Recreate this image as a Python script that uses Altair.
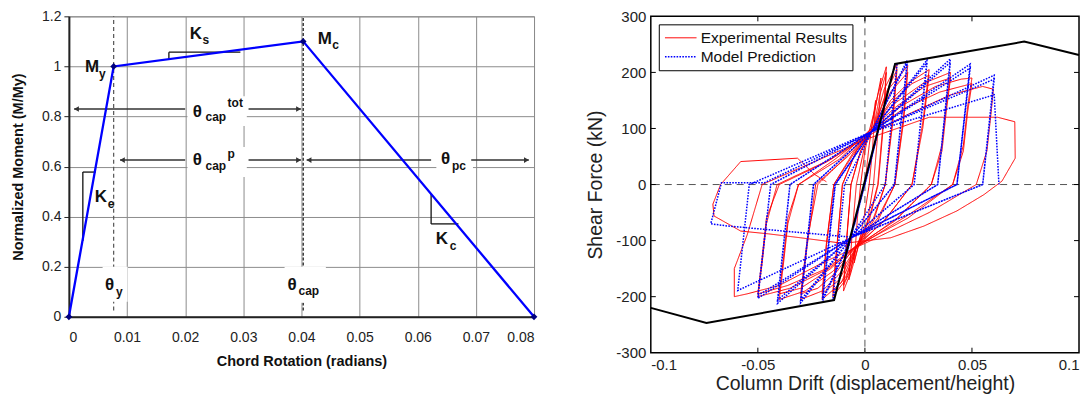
import altair as alt
import pandas as pd

FONT = "Liberation Sans"

# ---------------- LEFT PANEL DATA ----------------
bb_rot = [0.0, 0.0077, 0.0403, 0.08]
bb_mom = [0.0, 1.0, 1.1, 0.0]

x_ticks_left = [0, 0.01, 0.02, 0.03, 0.04, 0.05, 0.06, 0.07, 0.08]
y_ticks_left = [0, 0.2, 0.4, 0.6, 0.8, 1, 1.2]

dash_x = [0.0077, 0.0403]
dash_y1 = [0.025, 0.025]
dash_y2 = [1.2, 1.2]

# white label backgrounds (x1, x2, y1, y2)
box_x1 = [0.0204, 0.0204, 0.0632, 0.0058, 0.0371]
box_x2 = [0.0306, 0.0306, 0.0695, 0.0101, 0.0442]
box_y1 = [0.762, 0.558, 0.558, 0.06, 0.056]
box_y2 = [0.881, 0.678, 0.678, 0.20, 0.20]

# double arrows
arr_x1 = [0.0009, 0.0309, 0.0088, 0.0309, 0.0409, 0.0692]
arr_x2 = [0.0200, 0.0399, 0.0200, 0.0399, 0.0623, 0.0791]
arr_y = [0.83, 0.83, 0.626, 0.626, 0.626, 0.626]
head_l_x = [0.0013, 0.0092, 0.0413]
head_l_y = [0.83, 0.626, 0.626]
head_r_x = [0.0395, 0.0395, 0.0787]
head_r_y = [0.83, 0.626, 0.626]

# slope brackets
seg_x1 = [0.0172, 0.0172, 0.0024, 0.0024, 0.0623, 0.0623]
seg_x2 = [0.0295, 0.0172, 0.0046, 0.0024, 0.0623, 0.0670]
seg_y1 = [1.057, 1.030, 0.578, 0.303, 0.371, 0.371]
seg_y2 = [1.057, 1.057, 0.578, 0.578, 0.490, 0.371]

# labels
main_text = ["M", "K", "M", "θ", "θ", "θ", "K", "K", "θ", "θ"]
main_x = [0.00275, 0.0208, 0.0428, 0.0213, 0.0213, 0.0640, 0.00446, 0.0631, 0.0062, 0.0376]
main_y = [0.997, 1.128, 1.108, 0.817, 0.626, 0.630, 0.478, 0.311, 0.125, 0.125]
sub_text = ["y", "s", "c", "cap", "cap", "pc", "e", "c", "y", "cap"]
sub_x = [0.0052, 0.0230, 0.0453, 0.0235, 0.0235, 0.0659, 0.0067, 0.0655, 0.0081, 0.0395]
sub_y = [0.969, 1.104, 1.084, 0.797, 0.602, 0.602, 0.450, 0.283, 0.100, 0.104]
sup_text = ["tot", "p"]
sup_x = [0.0273, 0.0273]
sup_y = [0.853, 0.650]

# ---------------- RIGHT PANEL DATA ----------------
x_ticks_right = [-0.1, -0.05, 0, 0.05, 0.1]
y_ticks_right = [-300, -200, -100, 0, 100, 200, 300]

backbone_drift = [-0.1, -0.074, -0.0144, 0.0141, 0.0744, 0.1]
backbone_force = [-220, -247, -206, 215, 255, 231]

red_pts = [
    (0, 0), (0.002, 70), (0.005, 150), (0.0035, 60), (0.002, 0), (0.0, -50), (-0.002, -90), (-0.005, -140),
    (-0.0035, -60), (-0.002, 0), (0.0, 60), (0.002, 95), (0.005, 140), (0.0075, 190),
    (0.006, 90), (0.004, 0), (0.001, -70), (-0.003, -110), (-0.0075, -170),
    (-0.006, -90), (-0.004, 0), (0.0, 70), (0.003, 100), (0.006, 160), (0.01, 210),
    (0.0085, 110), (0.006, 0), (0.002, -60), (-0.004, -110), (-0.007, -160), (-0.01, -190),
    (-0.0085, -100), (-0.0065, 0), (-0.002, 60), (0.004, 100), (0.007, 160), (0.01, 200),
    (0.0085, 100), (0.0062, 0), (0.002, -65), (-0.004, -112), (-0.007, -155), (-0.01, -180),
    (-0.0085, -95), (-0.0065, 0), (-0.002, 60), (0.004, 100), (0.009, 170), (0.015, 215),
    (0.013, 120), (0.0095, 0), (0.004, -60), (-0.004, -110), (-0.009, -170), (-0.015, -200),
    (-0.013, -110), (-0.0105, 0), (-0.004, 60), (0.004, 100), (0.01, 165), (0.015, 205),
    (0.013, 110), (0.0095, 0), (0.004, -65), (-0.004, -112), (-0.009, -165), (-0.015, -192),
    (-0.013, -105), (-0.0105, 0), (-0.004, 60), (0.004, 100), (0.011, 170), (0.02, 212),
    (0.018, 120), (0.014, 0), (0.006, -60), (-0.004, -110), (-0.011, -175), (-0.02, -205),
    (-0.018, -110), (-0.0145, 0), (-0.004, 62), (0.004, 100), (0.012, 165), (0.02, 200),
    (0.018, 110), (0.014, 0), (0.006, -65), (-0.004, -112), (-0.012, -170), (-0.02, -195),
    (-0.018, -105), (-0.0145, 0), (-0.005, 60), (0.004, 100), (0.012, 150), (0.02, 180), (0.03, 205),
    (0.027, 110), (0.022, 0), (0.01, -60), (-0.004, -112), (-0.012, -160), (-0.02, -190), (-0.03, -205),
    (-0.027, -110), (-0.023, 0), (-0.008, 50), (0.004, 100), (0.012, 145), (0.022, 180), (0.03, 195),
    (0.027, 100), (0.022, 0), (0.009, -65), (-0.005, -112), (-0.013, -155), (-0.022, -185), (-0.03, -195),
    (-0.027, -100), (-0.022, 0), (-0.01, 45), (0.003, 100), (0.014, 145), (0.027, 180), (0.04, 200),
    (0.038, 140), (0.036, 70), (0.031, 0), (0.015, -60), (-0.004, -112), (-0.015, -155), (-0.028, -190),
    (-0.04, -205),
    (-0.038, -140), (-0.036, -70), (-0.031, 0), (-0.012, 45), (0.003, 100), (0.015, 140), (0.028, 175),
    (0.04, 190),
    (0.038, 130), (0.036, 60), (0.031, 0), (0.014, -65), (-0.005, -112), (-0.016, -150), (-0.03, -185),
    (-0.04, -195),
    (-0.038, -130), (-0.036, -60), (-0.031, 0), (-0.014, 45), (0.003, 95), (0.017, 140), (0.033, 175),
    (0.045, 188), (0.05, 190),
    (0.048, 140), (0.046, 70), (0.041, 0), (0.02, -55), (-0.004, -112), (-0.017, -150), (-0.035, -185),
    (-0.05, -200),
    (-0.048, -140), (-0.046, -70), (-0.041, 0), (-0.016, 45), (0.003, 95), (0.018, 135), (0.035, 165),
    (0.05, 180),
    (0.048, 130), (0.046, 60), (0.041, 0), (0.02, -60), (-0.004, -110), (-0.018, -150), (-0.036, -180),
    (-0.05, -195),
    (-0.048, -130), (-0.046, -60), (-0.04, 0), (-0.018, 40), (0.003, 90), (0.02, 125), (0.04, 160),
    (0.055, 175), (0.06, 170),
    (0.059, 130), (0.057, 60), (0.052, 0), (0.03, -50), (0.0, -105), (-0.02, -140), (-0.04, -180),
    (-0.055, -195), (-0.061, -200),
    (-0.061, -150), (-0.055, -90), (-0.048, 0), (-0.03, 30), (0.0, 80), (0.03, 120), (0.062, 120),
    (0.07, 112),
    (0.0702, 47), (0.064, 6), (0.0556, -18), (0.043, -47), (0.0276, -74), (0.012, -95), (-0.01, -105),
    (-0.03, -95), (-0.045, -88), (-0.058, -83), (-0.0705, -56), (-0.071, -35),
    (-0.0674, 0), (-0.058, 41), (-0.0315, 47), (-0.0235, 18), (-0.018, 5),
]

blue_pts = [
    (0, 0), (0.005, 76), (-0.005, -73), (0.0075, 114), (-0.0075, -108), (0.01, 152), (-0.01, -145),
    (0.0141, 215), (0.015, 216),
    (0.0095, 0), (-0.006, -90), (-0.015, -207),
    (-0.0095, 0), (0.003, 92), (0.0198, 222),
    (0.0138, 0), (-0.006, -92), (-0.0198, -208),
    (-0.0138, 0), (0.003, 94), (0.0198, 218),
    (0.0138, 0), (-0.006, -92), (-0.0198, -204),
    (-0.014, 0), (0.003, 94), (0.029, 222),
    (0.023, 0), (-0.006, -94), (-0.03, -211),
    (-0.024, 0), (0.003, 94), (0.029, 217),
    (0.023, 0), (-0.006, -94), (-0.03, -206),
    (-0.024, 0), (0.003, 94), (0.0399, 224),
    (0.034, 0), (-0.006, -94), (-0.0408, -212),
    (-0.035, 0), (0.003, 94), (0.0399, 218),
    (0.034, 0), (-0.006, -94), (-0.0408, -206),
    (-0.035, 0), (0.003, 94), (0.0492, 215),
    (0.043, 0), (-0.006, -94), (-0.05, -203),
    (-0.044, 0), (0.003, 94), (0.0492, 208),
    (0.043, 0), (-0.006, -94), (-0.05, -198),
    (-0.044, 0), (0.003, 94), (0.0604, 195),
    (0.055, 0), (-0.006, -94), (-0.0594, -189),
    (-0.054, 0), (0.003, 94), (0.0604, 188),
    (0.055, 0), (-0.006, -94), (-0.064, -74), (-0.072, -70),
    (-0.067, 3), (-0.047, 3), (0.003, 94), (0.0604, 160), (0.0626, 0),
]

series_names = ["Experimental Results", "Model Prediction"]

# ---------------- LEFT PANEL ----------------
LW, LH = 466, 301

xaxis_l = alt.Axis(values=x_ticks_left, labelExpr="'' + datum.value", grid=True, gridColor="#8c8c8c",
                   gridWidth=1, ticks=False, domainColor="#222", domainWidth=2, labelFont=FONT,
                   labelFontSize=14, labelColor="#222", labelPadding=14, titleFont=FONT, titleFontSize=14.5,
                   titleFontWeight="bold", titleColor="#111", titlePadding=10)
yaxis_l = alt.Axis(values=y_ticks_left, labelExpr="'' + datum.value", grid=True, gridColor="#8c8c8c",
                   gridWidth=1, tickSize=5, tickColor="#222", domainColor="#222", domainWidth=2,
                   labelFont=FONT, labelFontSize=14, labelColor="#222", labelPadding=3, titleFont=FONT,
                   titleFontSize=14.5, titleFontWeight="bold", titleColor="#111", titlePadding=16)
xs_l = alt.Scale(domain=[0, 0.08], nice=False, zero=False)
ys_l = alt.Scale(domain=[0, 1.2], nice=False, zero=False)


def LX(f="x"):
    return alt.X(f, type="quantitative", scale=xs_l, axis=xaxis_l, title="Chord Rotation (radians)")


def LY(f="y"):
    return alt.Y(f, type="quantitative", scale=ys_l, axis=yaxis_l, title="Normalized Moment (M/My)")


df_bb = pd.DataFrame({"x": bb_rot, "y": bb_mom, "i": range(len(bb_rot))})
df_dash = pd.DataFrame({"x": dash_x, "y": dash_y1, "y2": dash_y2})
df_box = pd.DataFrame({"x": box_x1, "x2": box_x2, "y": box_y1, "y2": box_y2})
df_arr = pd.DataFrame({"x": arr_x1, "x2": arr_x2, "y": arr_y})
df_hl = pd.DataFrame({"x": head_l_x, "y": head_l_y})
df_hr = pd.DataFrame({"x": head_r_x, "y": head_r_y})
df_seg = pd.DataFrame({"x": seg_x1, "x2": seg_x2, "y": seg_y1, "y2": seg_y2})
df_main = pd.DataFrame({"x": main_x, "y": main_y, "t": main_text})
df_sub = pd.DataFrame({"x": sub_x, "y": sub_y, "t": sub_text})
df_sup = pd.DataFrame({"x": sup_x, "y": sup_y, "t": sup_text})

dash1 = alt.Chart(df_dash.iloc[[0]]).mark_rule(color="#555", strokeDash=[4, 3], strokeWidth=1.2).encode(
    x=LX(), y=LY(), y2="y2")
dash2 = alt.Chart(df_dash.iloc[[1]]).mark_rule(color="#111", strokeDash=[3, 2], strokeWidth=1.2).encode(
    x=LX(), y=LY(), y2="y2")
boxes = alt.Chart(df_box).mark_rect(fill="white").encode(x=LX(), x2="x2", y=LY(), y2="y2")
segs = alt.Chart(df_seg).mark_rule(color="#111", strokeWidth=1.3).encode(x=LX(), x2="x2", y=LY(), y2="y2")
arrows = alt.Chart(df_arr).mark_rule(color="#333", strokeWidth=1.6).encode(x=LX(), x2="x2", y=LY())
hl = alt.Chart(df_hl).mark_point(shape="triangle-left", filled=True, color="#333", size=32, opacity=1).encode(
    x=LX(), y=LY())
hr = alt.Chart(df_hr).mark_point(shape="triangle-right", filled=True, color="#333", size=32, opacity=1).encode(
    x=LX(), y=LY())
bline = alt.Chart(df_bb).mark_line(color="#0000FF", strokeWidth=2.3).encode(x=LX(), y=LY(), order="i:Q")
bpts = alt.Chart(df_bb).mark_point(shape="diamond", filled=True, color="#000080", size=45, opacity=1).encode(
    x=LX(), y=LY())
t_main = alt.Chart(df_main).mark_text(font=FONT, fontSize=17, fontWeight="bold", align="left",
                                      baseline="middle", color="#111").encode(x=LX(), y=LY(), text="t:N")
t_sub = alt.Chart(df_sub).mark_text(font=FONT, fontSize=12, fontWeight="bold", align="left",
                                    baseline="middle", color="#111").encode(x=LX(), y=LY(), text="t:N")
t_sup = alt.Chart(df_sup).mark_text(font=FONT, fontSize=12, fontWeight="bold", align="left",
                                    baseline="middle", color="#111").encode(x=LX(), y=LY(), text="t:N")

left = alt.layer(dash1, dash2, boxes, segs, arrows, hl, hr, bline, bpts, t_main, t_sub, t_sup).properties(
    width=LW, height=LH, view=alt.ViewBackground(stroke="#8c8c8c", strokeWidth=1))

# ---------------- RIGHT PANEL ----------------
RW, RH = 429, 337

xaxis_r = alt.Axis(values=x_ticks_right, labelExpr="'' + datum.value", grid=False, ticks=False, domain=False,
                   labelFont=FONT, labelFontSize=15, labelColor="#222", labelPadding=5, titleFont=FONT,
                   titleFontSize=19.5, titleFontWeight="normal", titleColor="#222", titlePadding=2)
yaxis_r = alt.Axis(values=y_ticks_right, labelExpr="'' + datum.value", grid=False, ticks=False, domain=False,
                   labelFont=FONT, labelFontSize=15, labelColor="#222", labelPadding=5, titleFont=FONT,
                   titleFontSize=19.5, titleFontWeight="normal", titleColor="#222", titlePadding=10)
xs_r = alt.Scale(domain=[-0.1, 0.1], nice=False, zero=False)
ys_r = alt.Scale(domain=[-300, 300], nice=False, zero=False)


def RX(f="x"):
    return alt.X(f, type="quantitative", scale=xs_r, axis=xaxis_r, title="Column Drift (displacement/height)")


def RY(f="y"):
    return alt.Y(f, type="quantitative", scale=ys_r, axis=yaxis_r, title="Shear Force (kN)")


rows = []
for i, (x, y) in enumerate(red_pts):
    rows.append({"x": x, "y": y, "i": i, "series": series_names[0]})
for i, (x, y) in enumerate(blue_pts):
    rows.append({"x": x, "y": y, "i": i, "series": series_names[1]})
df_hyst = pd.DataFrame(rows)
df_back = pd.DataFrame({"x": backbone_drift, "y": backbone_force, "i": range(len(backbone_drift))})
df_zero = pd.DataFrame({"x": [0], "y": [0]})
df_xt = pd.DataFrame({"x": [v for v in x_ticks_right[1:-1]]})
df_yt = pd.DataFrame({"y": [v for v in y_ticks_right[1:-1]]})

zx = alt.Chart(df_zero).mark_rule(color="#555", strokeDash=[7, 5], strokeWidth=1).encode(x=RX())
zy = alt.Chart(df_zero).mark_rule(color="#555", strokeDash=[7, 5], strokeWidth=1).encode(y=RY())

hyst = alt.Chart(df_hyst).mark_line(interpolate="linear").encode(
    x=RX(), y=RY(), order="i:Q",
    color=alt.Color("series:N", scale=alt.Scale(domain=series_names, range=["#FF0000", "#0000FF"]), title=None,
                    legend=alt.Legend(orient="top-left", offset=8, fillColor="white", strokeColor="black",
                                      padding=5, labelFont=FONT, labelFontSize=15.5, labelColor="#111",
                                      symbolType="stroke", symbolSize=1000, symbolStrokeWidth=1.3,
                                      clipHeight=17, rowPadding=2, labelOffset=3, cornerRadius=0)),
    strokeDash=alt.StrokeDash("series:N", scale=alt.Scale(domain=series_names, range=[[1, 0], [1.6, 1.3]]),
                              title=None),
    strokeWidth=alt.StrokeWidth("series:N", scale=alt.Scale(domain=series_names, range=[1.0, 1.5]),
                                legend=None),
)
back = alt.Chart(df_back).mark_line(color="black", strokeWidth=2).encode(x=RX(), y=RY(), order="i:Q")

tb = alt.Chart(df_xt).mark_rule(color="black").encode(x=RX(), y=alt.value(RH), y2=alt.value(RH - 5))
tt = alt.Chart(df_xt).mark_rule(color="black").encode(x=RX(), y=alt.value(0), y2=alt.value(5))
tl = alt.Chart(df_yt).mark_rule(color="black").encode(y=RY(), x=alt.value(0), x2=alt.value(5))
tr = alt.Chart(df_yt).mark_rule(color="black").encode(y=RY(), x=alt.value(RW), x2=alt.value(RW - 5))

right = alt.layer(zx, zy, hyst, back, tb, tt, tl, tr).properties(
    width=RW, height=RH, view=alt.ViewBackground(stroke="black", strokeWidth=1.5))

chart = alt.hconcat(left, right, spacing=45).resolve_scale(
    x="independent", y="independent", color="independent", strokeDash="independent",
    strokeWidth="independent"
).resolve_legend(color="independent", strokeDash="independent", strokeWidth="independent").properties(
    padding={"left": 2, "top": 0, "right": 0, "bottom": 0}
).configure(font=FONT)

chart.save("out.html", embed_options={"renderer": "svg", "actions": False})
